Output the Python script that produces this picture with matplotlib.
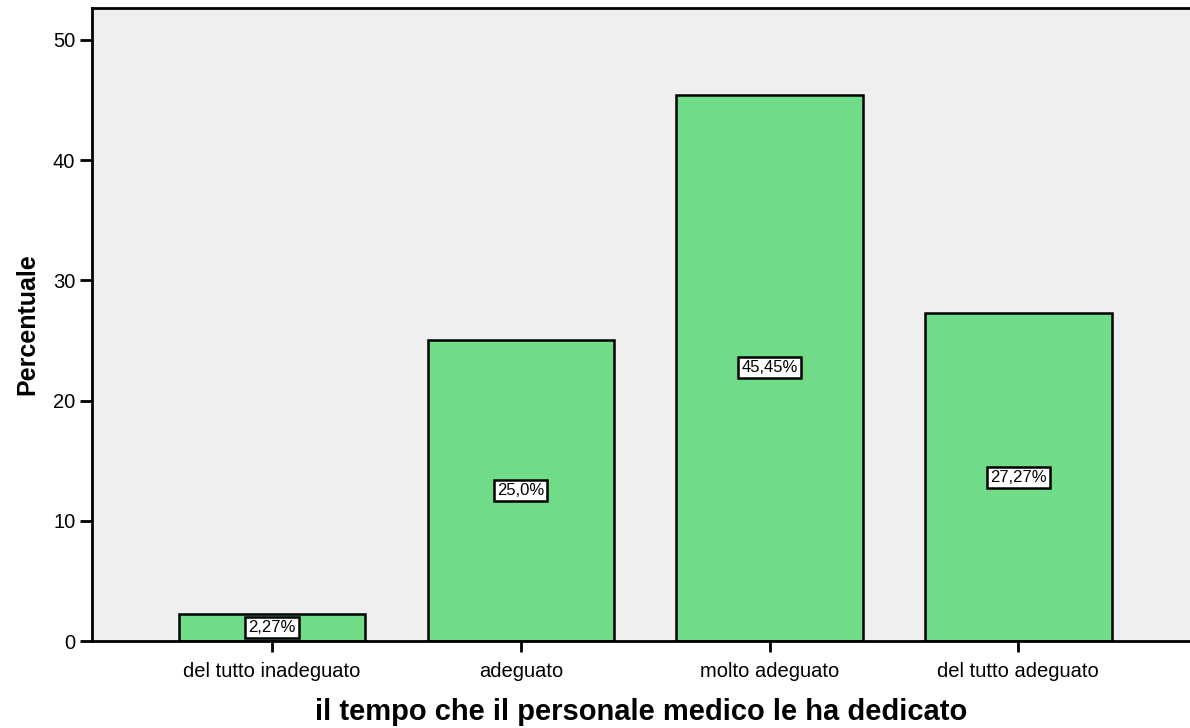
import matplotlib.pyplot as plt
import numpy as np

plt.rcParams['font.family'] = ['Liberation Sans', 'DejaVu Sans']

categories = ['del tutto inadeguato', 'adeguato', 'molto adeguato', 'del tutto adeguato']
percent = [2.27, 25.0, 45.45, 27.27]
bar_labels = ['2,27%', '25,0%', '45,45%', '27,27%']

fig = plt.figure(figsize=(11.9, 7.28), dpi=100)
ax = fig.add_axes([0.0773, 0.1195, 0.9227, 0.8695])
ax.set_facecolor('#efefef')

x = np.arange(len(categories))
ax.bar(x, percent, width=0.75, color='#70dc88', edgecolor='black', linewidth=1.8, zorder=2)

# value labels in white boxes at the middle of each bar
for xi, v, lab in zip(x, percent, bar_labels):
    ax.text(xi, v / 2, lab, ha='center', va='center', fontsize=12, zorder=3,
            bbox=dict(boxstyle='square,pad=0.18', fc='white', ec='black', lw=1.8))

ax.set_xlim(-0.724, 3.69)
ax.set_ylim(0, 52.66)
ax.set_xticks(x)
ax.set_xticklabels(categories, fontsize=14.5)
ax.set_yticks([0, 10, 20, 30, 40, 50])
ax.tick_params(axis='y', length=9, width=2, labelsize=14.5, pad=3)
ax.tick_params(axis='x', length=8, width=2, pad=7)

ax.spines['right'].set_visible(False)
for s in ['top', 'left', 'bottom']:
    ax.spines[s].set_linewidth(2)

ax.set_xlabel('il tempo che il personale medico le ha dedicato', fontsize=21, fontweight='bold', labelpad=12)
ax.set_ylabel('Percentuale', fontsize=18, fontweight='bold', labelpad=10)

fig.savefig('out.png', dpi=100)
